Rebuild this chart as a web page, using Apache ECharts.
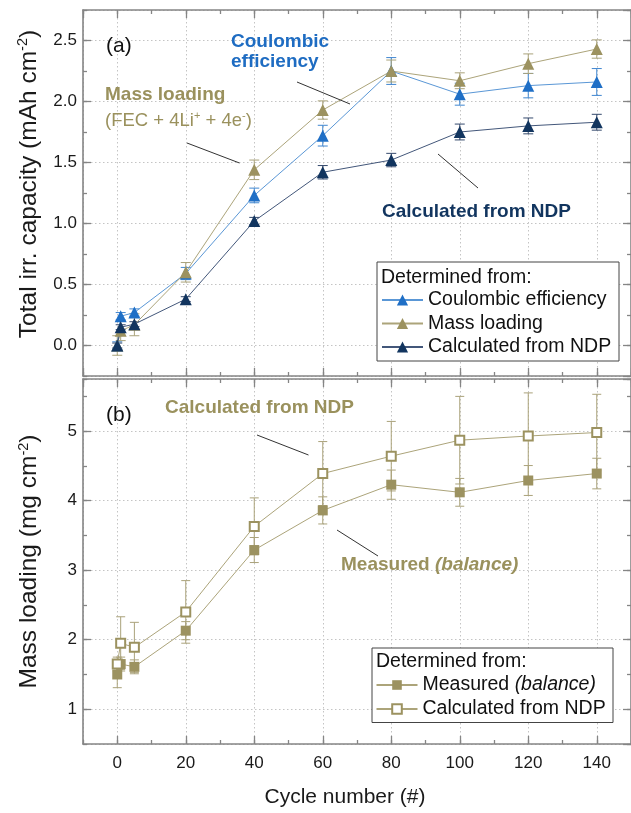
<!DOCTYPE html>
<html><head><meta charset="utf-8">
<script src="https://cdn.jsdelivr.net/npm/echarts@6/dist/echarts.min.js"></script>
<style>html,body{margin:0;padding:0;background:#fff}#c{width:631px;height:813px}</style>
</head><body><div id="c"></div>
<script>
const FONT = '"Liberation Sans", Arial, Helvetica, sans-serif';

const cycles = [0, 1, 5, 20, 40, 60, 80, 100, 120, 140];

// Panel (a): total irreversible capacity (mAh cm^-2)
const capCoulombic      = [0.00, 0.24, 0.27, 0.59, 1.23, 1.72, 2.25, 2.06, 2.13, 2.16];
const capCoulombicErr   = [0.03, 0.03, 0.03, 0.05, 0.06, 0.085, 0.11, 0.09, 0.10, 0.11];
const capMassLoading    = [0.00, 0.12, 0.17, 0.60, 1.44, 1.93, 2.25, 2.17, 2.31, 2.43];
const capMassLoadingErr = [0.08, 0.08, 0.09, 0.08, 0.08, 0.075, 0.09, 0.065, 0.08, 0.075];
const capNDP            = [0.00, 0.15, 0.175, 0.38, 1.02, 1.42, 1.52, 1.75, 1.80, 1.83];
const capNDPErr         = [0.02, 0.02, 0.02, 0.02, 0.03, 0.055, 0.055, 0.065, 0.065, 0.065];

// Panel (b): mass loading (mg cm^-2)
const massMeasured    = [1.50, 1.65, 1.61, 2.13, 3.29, 3.86, 4.23, 4.12, 4.29, 4.39];
const massMeasuredErr = [0.19, 0.10, 0.10, 0.13, 0.18, 0.195, 0.21, 0.20, 0.215, 0.22];
const massNDP         = [1.65, 1.95, 1.89, 2.40, 3.63, 4.39, 4.64, 4.87, 4.93, 4.98];
const massNDPErr      = [0.10, 0.38, 0.36, 0.45, 0.41, 0.46, 0.50, 0.63, 0.62, 0.55];

// Tick labels
const xTickLabels  = ['0', '20', '40', '60', '80', '100', '120', '140'];
const yTickLabelsA = ['0.0', '0.5', '1.0', '1.5', '2.0', '2.5'];
const yTickLabelsB = ['1', '2', '3', '4', '5'];

const FRAME = '#858585';
const GRID_C = '#c4c4c4';
const BLUE = '#1f6fc6', BLUE_L = '#5a97d6';
const OLIVE = '#9c9260', OLIVE_L = '#aca47a';
const NAVY = '#12355f', NAVY_L = '#43577a';

const zip = (xs, ys) => xs.map((x, i) => [x, ys[i]]);
const zip3 = (xs, ys, es) => xs.map((x, i) => [x, ys[i], es[i]]);

function xAxesFor(gi, labels) {
  const base = { type: 'value', gridIndex: gi, min: -10, max: 150 };
  return [
    Object.assign({}, base, {
      position: 'bottom', splitNumber: 8,
      axisLine: { show: true, onZero: false, lineStyle: { color: FRAME, width: 1.6 } },
      axisTick: { show: true, inside: true, length: 8, lineStyle: { color: FRAME, width: 1.3 } },
      axisLabel: {
        show: labels, showMinLabel: false, showMaxLabel: false, margin: 11,
        fontSize: 17, color: '#1a1a1a', fontFamily: FONT,
        formatter: v => { const s = String(Math.round(v)); return xTickLabels.includes(s) ? s : ''; }
      },
      splitLine: { show: true, lineStyle: { color: GRID_C, width: 1, type: [1.5, 2.5] } }
    }),
    Object.assign({}, base, {
      position: 'top', splitNumber: 8,
      axisLine: { show: true, onZero: false, lineStyle: { color: FRAME, width: 1.6 } },
      axisTick: { show: true, inside: true, length: 8, lineStyle: { color: FRAME, width: 1.3 } },
      axisLabel: { show: false }, splitLine: { show: false }
    }),
    Object.assign({}, base, {
      position: 'bottom', interval: 10,
      axisLine: { show: false, onZero: false },
      axisTick: { show: true, inside: true, length: 4, lineStyle: { color: FRAME, width: 1.3 } },
      axisLabel: { show: false }, splitLine: { show: false }
    }),
    Object.assign({}, base, {
      position: 'top', interval: 10,
      axisLine: { show: false, onZero: false },
      axisTick: { show: true, inside: true, length: 4, lineStyle: { color: FRAME, width: 1.3 } },
      axisLabel: { show: false }, splitLine: { show: false }
    })
  ];
}

function yAxesFor(gi, min, max, splitNumber, minorInterval, fmt, name, namePad) {
  const base = { type: 'value', gridIndex: gi, min: min, max: max };
  return [
    Object.assign({}, base, {
      position: 'left', splitNumber: splitNumber,
      axisLine: { show: true, onZero: false, lineStyle: { color: FRAME, width: 1.6 } },
      axisTick: { show: true, inside: true, length: 8, lineStyle: { color: FRAME, width: 1.3 } },
      axisLabel: {
        show: true, showMinLabel: false, showMaxLabel: false, margin: 6,
        fontSize: 17, color: '#1a1a1a', fontFamily: FONT, formatter: fmt
      },
      splitLine: { show: true, lineStyle: { color: GRID_C, width: 1, type: [1.5, 2.5] } },
      name: name, nameLocation: 'middle', nameGap: 40, nameRotate: 90,
      nameTextStyle: {
        fontSize: 24.5, color: '#1a1a1a', fontFamily: FONT, lineHeight: 27, padding: namePad,
        rich: { s: { fontSize: 14.5, fontFamily: FONT, color: '#1a1a1a', verticalAlign: 'top', lineHeight: 14 } }
      }
    }),
    Object.assign({}, base, {
      position: 'right', splitNumber: splitNumber,
      axisLine: { show: true, onZero: false, lineStyle: { color: FRAME, width: 1.6 } },
      axisTick: { show: true, inside: true, length: 8, lineStyle: { color: FRAME, width: 1.3 } },
      axisLabel: { show: false }, splitLine: { show: false }
    }),
    Object.assign({}, base, {
      position: 'left', interval: minorInterval,
      axisLine: { show: false, onZero: false },
      axisTick: { show: true, inside: true, length: 4, lineStyle: { color: FRAME, width: 1.3 } },
      axisLabel: { show: false }, splitLine: { show: false }
    }),
    Object.assign({}, base, {
      position: 'right', interval: minorInterval,
      axisLine: { show: false, onZero: false },
      axisTick: { show: true, inside: true, length: 4, lineStyle: { color: FRAME, width: 1.3 } },
      axisLabel: { show: false }, splitLine: { show: false }
    })
  ];
}

function errSeries(xi, yi, ys, es, color, cap) {
  return {
    type: 'custom', xAxisIndex: xi, yAxisIndex: yi, z: 2,
    data: zip3(cycles, ys, es), encode: { x: 0, y: 1 }, silent: true,
    renderItem: function (params, api) {
      const x = api.value(0), y = api.value(1), e = api.value(2);
      const t = api.coord([x, y + e]), b = api.coord([x, y - e]);
      const st = { stroke: color, lineWidth: 1 };
      return { type: 'group', children: [
        { type: 'line', shape: { x1: t[0], y1: t[1], x2: b[0], y2: b[1] }, style: st },
        { type: 'line', shape: { x1: t[0] - cap, y1: t[1], x2: t[0] + cap, y2: t[1] }, style: st },
        { type: 'line', shape: { x1: b[0] - cap, y1: b[1], x2: b[0] + cap, y2: b[1] }, style: st }
      ] };
    }
  };
}

function lineSeries(name, xi, yi, ys, symbol, size, itemStyle, lineColor) {
  return {
    name: name, type: 'line', xAxisIndex: xi, yAxisIndex: yi, z: 3,
    data: zip(cycles, ys), symbol: symbol, symbolSize: size, showAllSymbol: true,
    itemStyle: itemStyle, lineStyle: { color: lineColor, width: 1 },
    emphasis: { disabled: true }
  };
}

const fmtA = v => { const s = v.toFixed(1); return yTickLabelsA.includes(s) ? s : ''; };
const fmtB = v => { const s = String(Math.round(v * 100) / 100); return yTickLabelsB.includes(s) ? s : ''; };

const option = {
  animation: false,
  backgroundColor: '#fff',
  textStyle: { fontFamily: FONT },
  grid: [
    { left: 83, right: -1, top: 10, height: 366 },
    { left: 83, right: -1, top: 379, height: 365 }
  ],
  xAxis: [].concat(xAxesFor(0, false), xAxesFor(1, true)),
  yAxis: [].concat(
    yAxesFor(0, -0.25, 2.75, 6, 0.25, fmtA, 'Total irr. capacity (mAh cm{s|-2})', [0, 0, 0, 18]),
    yAxesFor(1, 0.5, 5.75, 5, 0.5, fmtB, 'Mass loading (mg cm{s|-2})', [0, 0, 0, 0])
  ),
  legend: [
    {
      orient: 'vertical', left: 381, top: 290, padding: 0, itemGap: 3.5,
      itemWidth: 41, itemHeight: 14, selectedMode: false, z: 6,
      textStyle: { fontSize: 19.5, color: '#111', fontFamily: FONT },
      data: ['Coulombic efficiency', 'Mass loading', 'Calculated from NDP']
    },
    {
      orient: 'vertical', left: 375.5, top: 675, padding: 0, itemGap: 4,
      itemWidth: 41, itemHeight: 12, selectedMode: false, z: 6,
      textStyle: { fontSize: 19.5, color: '#111', fontFamily: FONT,
        rich: { n: { fontSize: 19.5, color: '#111', fontFamily: FONT },
                i: { fontSize: 19.5, color: '#111', fontFamily: FONT, fontStyle: 'italic' } } },
      formatter: function (name) {
        if (name === 'Measured (balance)') return '{n|Measured }{i|(balance)}';
        return 'Calculated from NDP';
      },
      data: ['Measured (balance)', 'Calculated from NDP (mass)']
    }
  ],
  graphic: [
    // legend frames
    { type: 'rect', z: 5, shape: { x: 377, y: 262, width: 242, height: 99 },
      style: { fill: '#fff', stroke: '#444', lineWidth: 1 } },
    { type: 'text', z: 6, x: 381, y: 278,
      style: { text: 'Determined from:', fontSize: 19.5, fontFamily: FONT, fill: '#111', verticalAlign: 'middle' } },
    { type: 'rect', z: 5, shape: { x: 372, y: 648, width: 241, height: 74.5 },
      style: { fill: '#fff', stroke: '#444', lineWidth: 1 } },
    { type: 'text', z: 6, x: 376, y: 662,
      style: { text: 'Determined from:', fontSize: 19.5, fontFamily: FONT, fill: '#111', verticalAlign: 'middle' } },

    // panel labels
    { type: 'text', z: 6, x: 106, y: 46,
      style: { text: '(a)', fontSize: 21, fontFamily: FONT, fill: '#111', verticalAlign: 'middle' } },
    { type: 'text', z: 6, x: 106, y: 415,
      style: { text: '(b)', fontSize: 21, fontFamily: FONT, fill: '#111', verticalAlign: 'middle' } },

    // panel (a) annotations
    { type: 'text', z: 6, x: 231, y: 41.5,
      style: { text: 'Coulombic', fontSize: 19, fontWeight: 'bold', fontFamily: FONT, fill: '#1e6cc2', verticalAlign: 'middle' } },
    { type: 'text', z: 6, x: 231, y: 62,
      style: { text: 'efficiency', fontSize: 19, fontWeight: 'bold', fontFamily: FONT, fill: '#1e6cc2', verticalAlign: 'middle' } },
    { type: 'line', z: 6, shape: { x1: 297, y1: 82, x2: 350, y2: 104 }, style: { stroke: '#333', lineWidth: 1 } },

    { type: 'text', z: 6, x: 105, y: 95,
      style: { text: 'Mass loading', fontSize: 19, fontWeight: 'bold', fontFamily: FONT, fill: '#9a915d', verticalAlign: 'middle' } },
    { type: 'text', z: 6, x: 105, y: 121,
      style: { text: '(FEC + 4Li{s|+} + 4e{s|-})', fontSize: 18.5, fontFamily: FONT, fill: '#9a915d',
        verticalAlign: 'middle', lineHeight: 22,
        rich: { s: { fontSize: 11, fontFamily: FONT, fill: '#9a915d', verticalAlign: 'top', lineHeight: 11 } } } },
    { type: 'line', z: 6, shape: { x1: 187, y1: 143, x2: 239.5, y2: 163 }, style: { stroke: '#333', lineWidth: 1 } },

    { type: 'text', z: 6, x: 382, y: 212,
      style: { text: 'Calculated from NDP', fontSize: 19, fontWeight: 'bold', fontFamily: FONT, fill: '#12355f', verticalAlign: 'middle' } },
    { type: 'line', z: 6, shape: { x1: 438, y1: 154, x2: 478, y2: 188 }, style: { stroke: '#333', lineWidth: 1 } },

    // panel (b) annotations
    { type: 'text', z: 6, x: 165, y: 408,
      style: { text: 'Calculated from NDP', fontSize: 19, fontWeight: 'bold', fontFamily: FONT, fill: '#9a915d', verticalAlign: 'middle' } },
    { type: 'line', z: 6, shape: { x1: 257, y1: 435, x2: 308.5, y2: 455 }, style: { stroke: '#333', lineWidth: 1 } },
    { type: 'text', z: 6, x: 341, y: 565,
      style: { text: '{b|Measured }{bi|(balance)}', fontFamily: FONT, verticalAlign: 'middle',
        rich: { b: { fontSize: 19, fontWeight: 'bold', fontFamily: FONT, fill: '#9a915d' },
                bi: { fontSize: 19, fontWeight: 'bold', fontStyle: 'italic', fontFamily: FONT, fill: '#9a915d' } } } },
    { type: 'line', z: 6, shape: { x1: 337, y1: 530, x2: 378, y2: 556 }, style: { stroke: '#333', lineWidth: 1 } },

    // x-axis title
    { type: 'text', z: 6, x: 345, y: 797,
      style: { text: 'Cycle number (#)', fontSize: 21, fontFamily: FONT, fill: '#1a1a1a', align: 'center', verticalAlign: 'middle' } }
  ],
  series: [
    errSeries(0, 0, capCoulombic, capCoulombicErr, '#3f86d0', 5),
    errSeries(0, 0, capMassLoading, capMassLoadingErr, '#a9a27a', 5),
    errSeries(0, 0, capNDP, capNDPErr, '#34496c', 5),
    lineSeries('Coulombic efficiency', 0, 0, capCoulombic, 'triangle', 12, { color: BLUE }, BLUE_L),
    lineSeries('Mass loading', 0, 0, capMassLoading, 'triangle', 12, { color: OLIVE }, OLIVE_L),
    lineSeries('Calculated from NDP', 0, 0, capNDP, 'triangle', 12, { color: NAVY }, NAVY_L),

    errSeries(4, 4, massMeasured, massMeasuredErr, '#aaa27a', 4.5),
    errSeries(4, 4, massNDP, massNDPErr, '#aaa27a', 4.5),
    lineSeries('Measured (balance)', 4, 4, massMeasured, 'rect', 10, { color: OLIVE }, OLIVE_L),
    lineSeries('Calculated from NDP (mass)', 4, 4, massNDP, 'emptyRect', 9,
      { color: OLIVE, borderColor: OLIVE, borderWidth: 1.6 }, OLIVE_L)
  ]
};

const chart = echarts.init(document.getElementById('c'), null, { renderer: 'canvas', width: 631, height: 813 });
chart.setOption(option);
</script>
</body></html>
